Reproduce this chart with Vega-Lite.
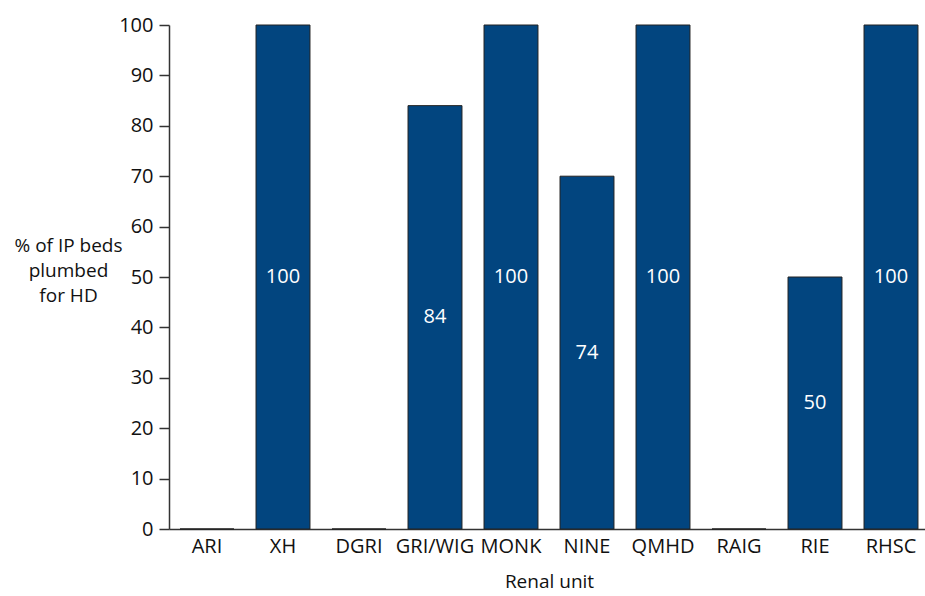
{
  "$schema": "https://vega.github.io/schema/vega-lite/v6.json",
  "autosize": "none",
  "width": 760,
  "height": 504,
  "padding": {"left": 169, "top": 25, "right": 0, "bottom": 67},
  "background": "white",
  "config": {
    "view": {"stroke": null},
    "font": "Open Sans",
    "axis": {"labelFont": "Open Sans", "titleFont": "Open Sans", "labelColor": "#111", "titleColor": "#111", "titleFontWeight": "normal", "grid": false}
  },
  "data": {
    "values": [
      {"unit": "ARI", "value": 0, "label": ""},
      {"unit": "XH", "value": 100, "label": "100"},
      {"unit": "DGRI", "value": 0, "label": ""},
      {"unit": "GRI/WIG", "value": 84, "label": "84"},
      {"unit": "MONK", "value": 100, "label": "100"},
      {"unit": "NINE", "value": 70, "label": "74"},
      {"unit": "QMHD", "value": 100, "label": "100"},
      {"unit": "RAIG", "value": 0, "label": ""},
      {"unit": "RIE", "value": 50, "label": "50"},
      {"unit": "RHSC", "value": 100, "label": "100"}
    ]
  },
  "encoding": {
    "x": {
      "field": "unit", "type": "nominal", "sort": null,
      "scale": {"paddingInner": 0.29, "paddingOuter": 0.145},
      "axis": {"title": "Renal unit", "labelAngle": 0, "ticks": false, "labelFontSize": 20, "labelPadding": 7, "titleFontSize": 19, "titlePadding": 16, "domainColor": "#333", "domainWidth": 1.5}
    }
  },
  "layer": [
    {
      "mark": {"type": "bar", "color": "#02457f", "stroke": "#222", "strokeWidth": 1},
      "encoding": {
        "y": {
          "field": "value", "type": "quantitative",
          "scale": {"domain": [0, 100]},
          "axis": {
            "values": [0, 10, 20, 30, 40, 50, 60, 70, 80, 90, 100],
            "title": ["% of IP beds", "plumbed", "for HD"],
            "titleAngle": 0, "titleAlign": "center", "titleBaseline": "top",
            "titleX": -101, "titleY": 211, "titleLineHeight": 25, "titleFontSize": 19,
            "labelFontSize": 20, "labelPadding": 6, "tickSize": 10, "tickColor": "#333", "tickWidth": 1.5,
            "domainColor": "#333", "domainWidth": 1.5
          }
        }
      }
    },
    {
      "mark": {"type": "text", "color": "white", "fontSize": 20, "baseline": "middle", "font": "Open Sans"},
      "encoding": {
        "y": {"field": "value", "type": "quantitative", "scale": {"domain": [0, 200]}, "axis": null},
        "text": {"field": "label"}
      }
    }
  ],
  "resolve": {"scale": {"y": "independent"}}
}
